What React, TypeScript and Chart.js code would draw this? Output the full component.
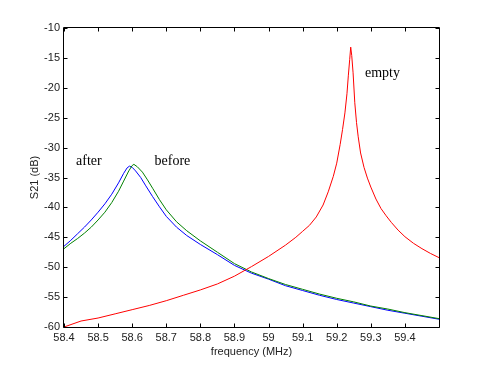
import React, { useEffect, useRef } from 'react';
import { Chart, registerables } from 'chart.js';
Chart.register(...registerables);

const emptyFreq = [58.40, 58.45, 58.50, 58.55, 58.60, 58.65, 58.70, 58.75, 58.80, 58.85, 58.90, 58.95, 59.00, 59.05, 59.08, 59.10, 59.12, 59.14, 59.16, 59.175, 59.19, 59.20, 59.21, 59.217, 59.224, 59.23, 59.234, 59.238, 59.241, 59.244, 59.248, 59.253, 59.258, 59.263, 59.27, 59.28, 59.29, 59.30, 59.315, 59.33, 59.345, 59.36, 59.38, 59.40, 59.425, 59.45, 59.475, 59.50];
const emptyDb = [-60.0, -59.0, -58.5, -57.8, -57.1, -56.4, -55.6, -54.7, -53.8, -52.8, -51.5, -49.9, -48.2, -46.3, -45.0, -44.0, -43.0, -41.6, -39.6, -37.4, -34.8, -32.6, -29.5, -27.0, -24.2, -21.0, -18.0, -15.3, -13.2, -14.6, -17.5, -22.5, -25.8, -28.2, -30.9, -33.3, -35.1, -36.6, -38.6, -40.2, -41.4, -42.5, -43.8, -44.9, -46.0, -46.9, -47.7, -48.4];

const beforeFreq = [58.40, 58.42, 58.44, 58.46, 58.48, 58.50, 58.52, 58.54, 58.56, 58.575, 58.59, 58.60, 58.605, 58.615, 58.63, 58.645, 58.66, 58.68, 58.70, 58.73, 58.76, 58.80, 58.85, 58.90, 58.95, 59.00, 59.05, 59.10, 59.15, 59.20, 59.25, 59.30, 59.35, 59.40, 59.45, 59.50];
const beforeDb = [-46.9, -46.0, -45.2, -44.3, -43.3, -42.1, -40.8, -39.2, -37.3, -35.6, -33.9, -33.0, -32.8, -33.2, -34.1, -35.4, -36.8, -38.7, -40.4, -42.4, -43.9, -45.6, -47.5, -49.4, -50.8, -51.9, -52.9, -53.7, -54.5, -55.2, -55.8, -56.5, -57.0, -57.6, -58.1, -58.6];

const afterFreq = [58.40, 58.42, 58.44, 58.46, 58.48, 58.50, 58.52, 58.54, 58.56, 58.575, 58.585, 58.592, 58.60, 58.61, 58.625, 58.64, 58.66, 58.68, 58.70, 58.73, 58.76, 58.80, 58.85, 58.90, 58.95, 59.00, 59.05, 59.10, 59.15, 59.20, 59.25, 59.30, 59.35, 59.40, 59.45, 59.50];
const afterDb = [-46.5, -45.5, -44.4, -43.3, -42.1, -40.8, -39.4, -37.8, -35.9, -34.3, -33.4, -33.1, -33.3, -33.9, -35.0, -36.4, -38.2, -39.9, -41.5, -43.3, -44.7, -46.2, -47.9, -49.7, -51.0, -52.0, -53.1, -53.9, -54.7, -55.4, -56.0, -56.6, -57.2, -57.7, -58.2, -58.7];

const xTicks = [58.4, 58.5, 58.6, 58.7, 58.8, 58.9, 59.0, 59.1, 59.2, 59.3, 59.4];
const xTickLabels = ['58.4', '58.5', '58.6', '58.7', '58.8', '58.9', '59', '59.1', '59.2', '59.3', '59.4'];
const yTicks = [-60, -55, -50, -45, -40, -35, -30, -25, -20, -15, -10];
const yTickLabels = ['-60', '-55', '-50', '-45', '-40', '-35', '-30', '-25', '-20', '-15', '-10'];

const noteTexts = ['after', 'before', 'empty'];
const noteFreq = [58.473, 58.718, 59.334];
const noteDb = [-32.3, -32.3, -17.5];

const xTitle = 'frequency (MHz)';
const yTitle = 'S21 (dB)';

const pts = (xs: number[], ys: number[]) => xs.map((x, i) => ({ x, y: ys[i] }));

const boxPlugin = {
  id: 'boxPlugin',
  afterDraw(chart: any) {
    const { ctx, chartArea } = chart;
    const { left, right, top, bottom } = chartArea;
    const xs = chart.scales.x;
    const ys = chart.scales.y;
    ctx.save();
    ctx.strokeStyle = '#000';
    ctx.lineWidth = 1;
    ctx.beginPath();
    const L = Math.round(left) - 0.5, R = Math.round(right) + 0.5;
    const T = Math.round(top) - 0.5, B = Math.round(bottom) + 0.5;
    ctx.rect(L, T, R - L, B - T);
    ctx.stroke();
    const tl = 4;
    ctx.beginPath();
    xTicks.forEach((v) => {
      const px = Math.round(xs.getPixelForValue(v)) + 0.5;
      ctx.moveTo(px, B); ctx.lineTo(px, B - tl);
      ctx.moveTo(px, T); ctx.lineTo(px, T + tl);
    });
    yTicks.forEach((v) => {
      const py = Math.round(ys.getPixelForValue(v)) + 0.5;
      ctx.moveTo(L, py); ctx.lineTo(L + tl, py);
      ctx.moveTo(R, py); ctx.lineTo(R - tl, py);
    });
    ctx.stroke();

    ctx.fillStyle = '#222';
    ctx.font = '11px "Liberation Sans", Arial, sans-serif';
    ctx.textAlign = 'center';
    ctx.textBaseline = 'middle';
    ctx.fillText(xTitle, (left + right) / 2, 352);
    ctx.save();
    ctx.translate(35, (top + bottom) / 2);
    ctx.rotate(-Math.PI / 2);
    ctx.fillText(yTitle, 0, 0);
    ctx.restore();

    ctx.fillStyle = '#000';
    ctx.font = '14px "Liberation Serif", "Times New Roman", serif';
    noteTexts.forEach((t, i) => {
      ctx.fillText(t, xs.getPixelForValue(noteFreq[i]), ys.getPixelForValue(noteDb[i]));
    });
    ctx.restore();
  },
};

export default function App() {
  const ref = useRef<HTMLCanvasElement>(null);
  useEffect(() => {
    document.body.style.margin = '0';
    const chart = new Chart(ref.current!, {
      type: 'line',
      data: {
        datasets: [
          { label: 'empty', data: pts(emptyFreq, emptyDb), borderColor: '#ff0000', borderWidth: 1, pointRadius: 0, tension: 0, fill: false },
          { label: 'before', data: pts(beforeFreq, beforeDb), borderColor: '#008000', borderWidth: 1, pointRadius: 0, tension: 0, fill: false },
          { label: 'after', data: pts(afterFreq, afterDb), borderColor: '#0000ff', borderWidth: 1, pointRadius: 0, tension: 0, fill: false },
        ],
      },
      options: {
        responsive: false,
        animation: false,
        layout: { padding: { left: 0, top: 28, right: 48, bottom: 0 } },
        plugins: { legend: { display: false }, tooltip: { enabled: false } },
        scales: {
          x: {
            type: 'linear',
            min: 58.4,
            max: 59.5,
            grid: { display: false, drawTicks: false },
            border: { display: false },
            afterFit: (s: any) => { s.height = 42; },
            afterBuildTicks: (s: any) => { s.ticks = xTicks.map((v) => ({ value: v })); },
            ticks: {
              padding: 4,
              autoSkip: false,
              maxRotation: 0,
              color: '#222',
              font: { family: '"Liberation Sans", Arial, sans-serif', size: 11 },
              callback: (_v: any, i: number) => xTickLabels[i],
            },
          },
          y: {
            type: 'linear',
            min: -60,
            max: -10,
            grid: { display: false, drawTicks: false },
            border: { display: false },
            afterFit: (s: any) => { s.width = 64; },
            afterBuildTicks: (s: any) => { s.ticks = yTicks.map((v) => ({ value: v })); },
            ticks: {
              padding: 4,
              autoSkip: false,
              color: '#222',
              font: { family: '"Liberation Sans", Arial, sans-serif', size: 11 },
              callback: (_v: any, i: number) => yTickLabels[i],
            },
          },
        },
      },
      plugins: [boxPlugin],
    });
    return () => chart.destroy();
  }, []);
  return (
    <div style={{ position: 'fixed', left: 0, top: 0, width: 487, height: 369, background: '#fff' }}>
      <canvas ref={ref} width={487} height={369} style={{ display: 'block' }} />
    </div>
  );
}
